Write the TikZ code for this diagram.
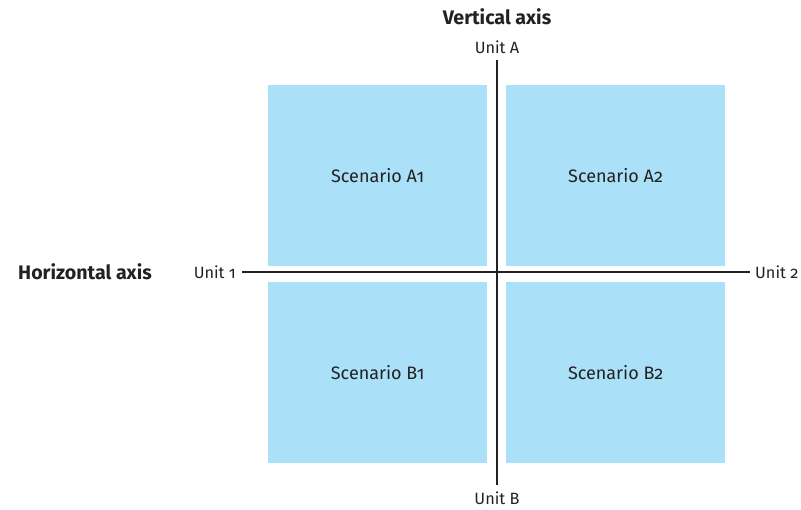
\documentclass[tikz,border=0pt]{standalone}
\usepackage{fontspec}
\setmainfont{Fira Sans}[Numbers=OldStyle]
\definecolor{boxblue}{HTML}{ABE0F9}
\definecolor{txt}{HTML}{222222}
\begin{document}
\begin{tikzpicture}[x=1pt,y=-1pt,
  quad/.style={fill=boxblue,draw=none,minimum width=219pt,minimum height=181pt,inner sep=0pt,anchor=north west},
  lbl/.style={text=txt,font=\fontsize{18}{21}\selectfont,inner sep=0pt},
  unit/.style={text=txt,font=\fontsize{16.3}{19}\selectfont,inner sep=0pt},
  ttl/.style={text=txt,font=\fontsize{19.6}{23}\selectfont\bfseries,inner sep=0pt},
  axis/.style={line width=1.4pt,draw=txt}]
\useasboundingbox (0,0) rectangle (801,509);
\node[quad] (a1) at (268,85) {};
\node[quad] (a2) at (506,85) {};
\node[quad] (b1) at (268,282) {};
\node[quad] (b2) at (506,282) {};
\node[lbl] at (a1.center) {Scenario A1};
\node[lbl] at (a2.center) {Scenario A2};
\node[lbl] at (b1.center) {Scenario B1};
\node[lbl] at (b2.center) {Scenario B2};
\coordinate (vt) at (497,60);
\coordinate (vb) at (497,485);
\coordinate (hl) at (242,272);
\coordinate (hr) at (750,272);
\draw[axis] (vt) -- (vb);
\draw[axis] (hl) -- (hr);
\node[ttl] (vtitle) at (497,17) {Vertical axis};
\node[unit] (ua) at (497,47) {Unit A};
\node[unit] (ub) at (497,498) {Unit B};
\node[unit,anchor=east] (u1) at (236,272) {Unit 1};
\node[unit,anchor=west] (u2) at (755,272) {Unit 2};
\node[ttl,anchor=west] (htitle) at (18,272) {Horizontal axis};
\end{tikzpicture}
\end{document}
